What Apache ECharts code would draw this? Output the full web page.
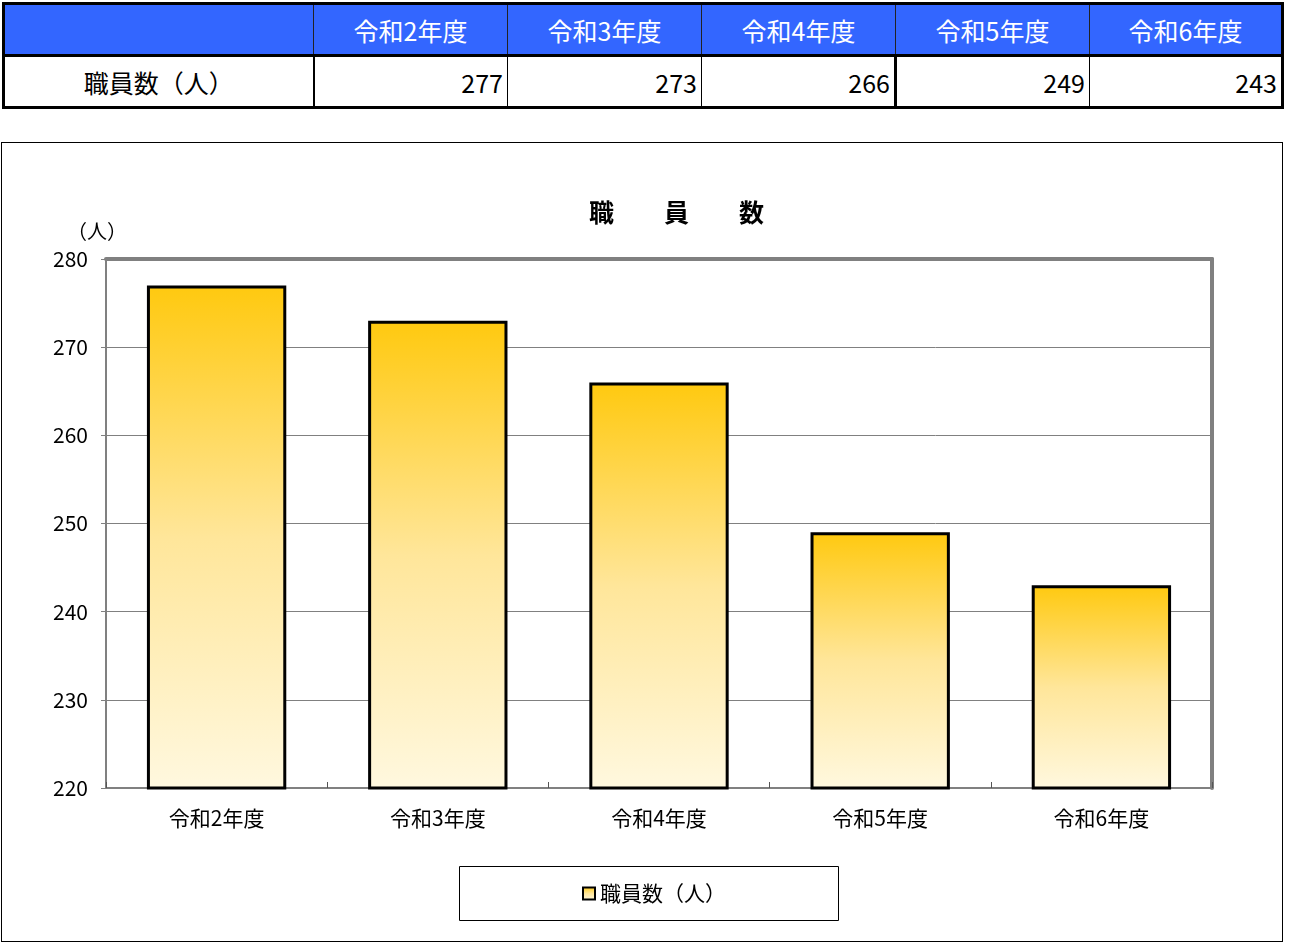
<!DOCTYPE html>
<html>
<head>
<meta charset="utf-8">
<script src="https://cdn.jsdelivr.net/npm/echarts@6/dist/echarts.min.js"></script>
<style>
  html, body { margin: 0; padding: 0; background: #fff; width: 1298px; height: 942px; overflow: hidden; font-family: "Noto Sans CJK JP", sans-serif; }
  #tbl { position: absolute; left: 2px; top: 2px; border-collapse: collapse; border: 3px solid #000; }
  #tbl td { padding: 0; height: 52px; font-size: 25px; box-sizing: border-box; }
  #tbl tr.hd td { background: #3366FF; color: #fff; text-align: center; border-left: 1px solid #222; border-bottom: 3px solid #000; }
  #tbl tr.dt td { color: #000; text-align: right; padding-right: 4px; border-left: 1px solid #000; }
  #tbl tr.dt td.lbl { text-align: center; padding-right: 0; }
  #chartWrap { position: absolute; left: 1px; top: 142px; width: 1280px; height: 798px; border: 1px solid #000; }
  #chart { width: 1280px; height: 798px; }
</style>
</head>
<body>
<table id="tbl"></table>
<div id="chartWrap"><div id="chart"></div></div>
<script>
const categories = ['令和2年度', '令和3年度', '令和4年度', '令和5年度', '令和6年度'];
const staffCounts = [277, 273, 266, 249, 243];
const seriesName = '職員数（人）';
const rowLabel = '職員数（人）';
const chartTitle = '職　　員　　数';
const yUnit = '（人）';
const yMin = 220, yMax = 280, yStep = 10;

// table
const colWidths = [310, 194, 194, 194, 194, 193];
const tbl = document.getElementById('tbl');
let hd = '<tr class="hd"><td style="width:' + colWidths[0] + 'px"></td>';
categories.forEach((c, i) => { hd += '<td style="width:' + colWidths[i + 1] + 'px">' + c + '</td>'; });
hd += '</tr>';
let dt = '<tr class="dt"><td class="lbl" style="border-left:none;border-right:2px solid #000">' + rowLabel + '</td>';
staffCounts.forEach((v, i) => {
  const thick = (i === 3) ? 'border-left:3px solid #000;' : '';
  dt += '<td style="' + thick + '">' + v + '</td>';
});
dt += '</tr>';
tbl.innerHTML = hd + dt;

const chart = echarts.init(document.getElementById('chart'));
const barFill = new echarts.graphic.LinearGradient(0, 0, 0, 1, [
  { offset: 0, color: '#FFC90F' },
  { offset: 0.5, color: '#FFE69A' },
  { offset: 1, color: '#FFF8DF' }
]);
const fontFam = '"Noto Sans CJK JP", sans-serif';
chart.setOption({
  animation: false,
  title: {
    text: chartTitle, left: 582, top: 52,
    textStyle: { fontSize: 25, fontWeight: 'bold', color: '#000', fontFamily: fontFam }
  },
  legend: {
    left: 575, top: 735, itemWidth: 12, itemHeight: 12, itemGap: 4,
    icon: 'rect',
    itemStyle: { borderColor: '#000', borderWidth: 2 },
    textStyle: { fontSize: 21, color: '#000', fontFamily: fontFam },
    data: [seriesName]
  },
  graphic: [{
    type: 'rect', left: 455, top: 721,
    shape: { width: 379, height: 54 },
    style: { fill: 'none', stroke: '#000', lineWidth: 1 }, z: -1
  }],
  grid: { left: 104, top: 116, width: 1106, height: 529, containLabel: false },
  xAxis: [{
    type: 'category', data: categories, position: 'bottom',
    axisLine: { lineStyle: { color: '#808080', width: 2 } },
    axisTick: { show: true, inside: true, length: 6, lineStyle: { color: '#555', width: 1 } },
    axisLabel: { fontSize: 21, color: '#000', margin: 20, fontFamily: fontFam }
  }, {
    type: 'category', data: categories, position: 'top',
    axisLine: { lineStyle: { color: '#808080', width: 4 } },
    axisTick: { show: false }, axisLabel: { show: false }
  }],
  yAxis: [{
    type: 'value', min: yMin, max: yMax, interval: yStep,
    name: yUnit, nameLocation: 'end', nameGap: 18,
    nameTextStyle: { fontSize: 20, color: '#000', fontFamily: fontFam, padding: [0, 18, 0, 0] },
    axisLine: { show: true, lineStyle: { color: '#808080', width: 2 } },
    axisTick: { show: true, length: 5, lineStyle: { color: '#808080' } },
    axisLabel: { fontSize: 21, color: '#000', margin: 18, fontFamily: fontFam },
    splitLine: { lineStyle: { color: '#808080', width: 1 } }
  }, {
    type: 'value', min: yMin, max: yMax, interval: yStep, position: 'right',
    axisLine: { show: true, lineStyle: { color: '#808080', width: 4 } },
    axisTick: { show: false }, axisLabel: { show: false }, splitLine: { show: false }
  }],
  series: [{
    name: seriesName, type: 'bar', data: staffCounts,
    xAxisIndex: 0, yAxisIndex: 0,
    barCategoryGap: '37%',
    itemStyle: { color: barFill, borderColor: '#000', borderWidth: 3 }
  }]
});
</script>
</body>
</html>
